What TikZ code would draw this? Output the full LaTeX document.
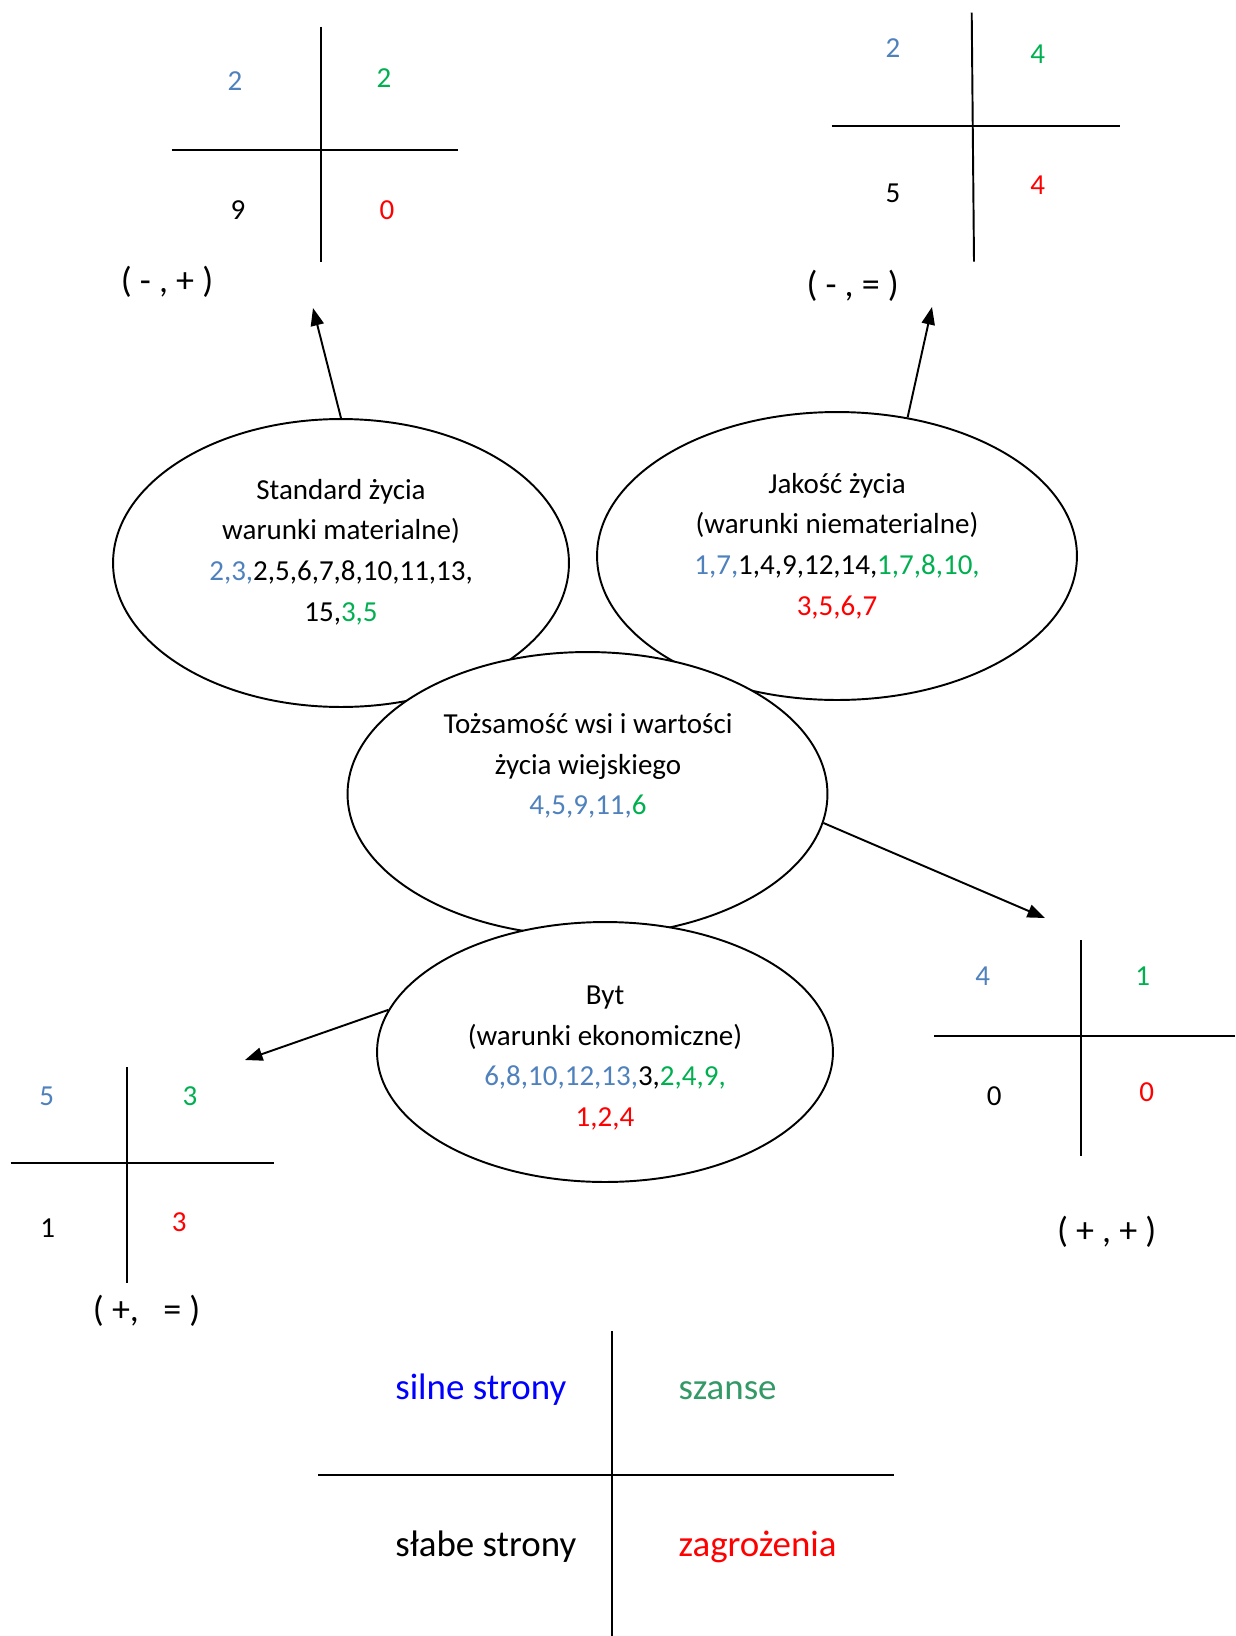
\documentclass[tikz,border=0pt]{standalone}
\usepackage{fontspec}
\setmainfont{Carlito}
\usetikzlibrary{arrows.meta,shapes.geometric}
\definecolor{nblue}{HTML}{4F81BD}
\definecolor{ngreen}{HTML}{00B050}
\definecolor{nred}{HTML}{FF0000}
\definecolor{lblue}{HTML}{0000FF}
\definecolor{lgreen}{HTML}{339966}
\begin{document}
\begin{tikzpicture}[x=0.02cm,y=-0.02cm,
  oval/.style={ellipse,draw,fill=white,line width=1.1pt,inner sep=0pt},
  otext/.style={align=center,font=\fontsize{16.5}{23.2}\selectfont},
  num/.style={font=\fontsize{16.5}{20}\selectfont,inner sep=0pt},
  qline/.style={line width=1.1pt},
  sign/.style={font=\fontsize{20.5}{24}\selectfont,inner sep=0pt},
  legend/.style={font=\fontsize{21}{25}\selectfont,anchor=base west,inner sep=0pt},
  arr/.style={line width=1.1pt,-{Triangle[length=10pt,width=7.5pt]}}]
\useasboundingbox (0,0) rectangle (1235,1636);

% ellipses
\node[oval,minimum width=9.12cm,minimum height=5.76cm] (std) at (341,563) {};
\node[oval,minimum width=9.6cm,minimum height=5.76cm] (jak) at (837,556) {};
\node[oval,minimum width=9.6cm,minimum height=5.68cm] (toz) at (587.5,794) {};
\node[oval,minimum width=9.12cm,minimum height=5.2cm] (byt) at (605,1052) {};

\node[otext] (stdtxt) at (341,552) {Standard życia\\warunki materialne)\\\textcolor{nblue}{2,3,}2,5,6,7,8,10,11,13,\\15,\textcolor{ngreen}{3,5}};
\node[otext] (jaktxt) at (837,546) {Jakość życia\\(warunki niematerialne)\\\textcolor{nblue}{1,7,}1,4,9,12,14,\textcolor{ngreen}{1,7,8,10,}\\\textcolor{nred}{3,5,6,7}};
\node[otext] (toztxt) at (588,766) {Tożsamość wsi i wartości\\życia wiejskiego\\\textcolor{nblue}{4,5,9,11,}\textcolor{ngreen}{6}};
\node[otext] (byttxt) at (605,1058) {Byt\\(warunki ekonomiczne)\\\textcolor{nblue}{6,8,10,12,13,}3,\textcolor{ngreen}{2,4,9,}\\\textcolor{nred}{1,2,4}};

% arrow targets
\coordinate (t1) at (313,308);
\coordinate (t2) at (932,307);
\coordinate (t3) at (1045,918);
\coordinate (t4) at (245,1060);
\draw[arr] (std.north) -- (t1);
\draw[arr] (jak.63.8) -- (t2);
\draw[arr] (toz.-7) -- (t3);
\draw[arr] (byt.169.6) -- (t4);

% quadrant 1 (top left)
\draw[qline] (320.7,26.7) -- (320.7,261.7);
\draw[qline] (171.7,150) -- (458.3,150);
\node[num,text=nblue] (q1s) at (235,80.7) {2};
\node[num,text=ngreen] (q1o) at (384,78) {2};
\node[num] (q1w) at (238,210) {9};
\node[num,text=nred] (q1t) at (387,210) {0};
\node[sign] (q1l) at (167,281.7) {( - , + )};

% quadrant 2 (top right)
\draw[qline] (971.7,12.7) -- (974,261.7);
\draw[qline] (831.7,126) -- (1120,126);
\node[num,text=nblue] (q2s) at (893,47.7) {2};
\node[num,text=ngreen] (q2o) at (1037.7,54.3) {4};
\node[num] (q2w) at (893,193.3) {5};
\node[num,text=nred] (q2t) at (1037.7,185) {4};
\node[sign] (q2l) at (852.7,286) {( - , = )};

% quadrant 3 (bottom left)
\draw[qline] (127.3,1067) -- (127.3,1282.7);
\draw[qline] (10.7,1162.7) -- (274,1162.7);
\node[num,text=nblue] (q3s) at (46.7,1096) {5};
\node[num,text=ngreen] (q3o) at (190,1096) {3};
\node[num] (q3w) at (47.7,1227.7) {1};
\node[num,text=nred] (q3t) at (179.3,1222) {3};
\node[sign] (q3l) at (146.7,1310.7) {( +,\ \ \ = )};

% quadrant 4 (bottom right)
\draw[qline] (1081,940) -- (1081,1155.7);
\draw[qline] (934.3,1036) -- (1235,1036);
\node[num,text=nblue] (q4s) at (982.7,976) {4};
\node[num,text=ngreen] (q4o) at (1142.7,976) {1};
\node[num] (q4w) at (994.3,1095.7) {0};
\node[num,text=nred] (q4t) at (1146.7,1091.7) {0};
\node[sign] (q4l) at (1106.7,1231.7) {( + , + )};

% legend
\draw[qline] (611.7,1331) -- (611.7,1636);
\draw[qline] (318,1475) -- (894,1475);
\node[legend,text=lblue] (ls) at (395,1399) {silne strony};
\node[legend,text=lgreen] (lo) at (678.3,1399) {szanse};
\node[legend] (lw) at (395,1556.7) {słabe strony};
\node[legend,text=nred] (lt) at (678.3,1556.7) {zagrożenia};
\end{tikzpicture}
\end{document}
